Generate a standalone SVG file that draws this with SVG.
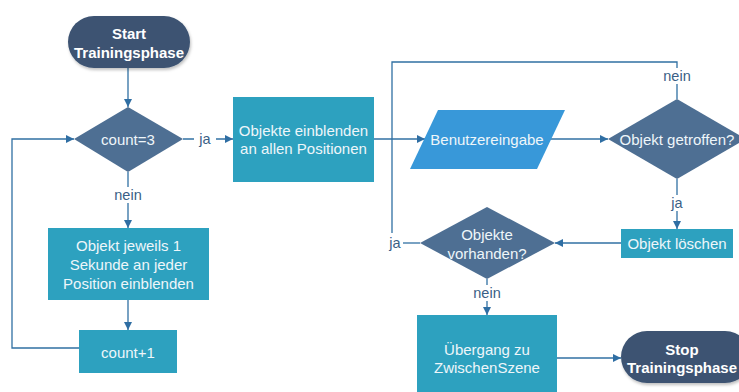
<svg xmlns="http://www.w3.org/2000/svg" width="739" height="392" viewBox="0 0 739 392">
  <style>
    .term { fill: #3c5372; }
    .dec { fill: #4e6f93; }
    .proc { fill: #2da1bf; }
    .io { fill: #3898d9; }
    .t { font-family: "Liberation Sans", Arial, sans-serif; font-size: 15px; fill: #eef6fa; text-anchor: middle; dominant-baseline: central; }
    .tb { font-family: "Liberation Sans", Arial, sans-serif; font-size: 15px; font-weight: bold; fill: #ffffff; text-anchor: middle; dominant-baseline: central; }
    .lbl { font-family: "Liberation Sans", Arial, sans-serif; font-size: 14.5px; fill: #3a5f86; text-anchor: middle; dominant-baseline: central; }
    .edge { fill: none; stroke: #3070a3; stroke-width: 1.3; }
  </style>
  <defs>
    <marker id="arrow" viewBox="0 0 10 10" refX="10" refY="5" markerWidth="8" markerHeight="8" markerUnits="userSpaceOnUse" orient="auto">
      <path d="M0,0 L10,5 L0,10 z" fill="#2f6ea3"/>
    </marker>
    <filter id="shadow" x="-10%" y="-10%" width="130%" height="140%">
      <feDropShadow dx="1" dy="2" stdDeviation="1.5" flood-color="#000" flood-opacity="0.25"/>
    </filter>
  </defs>

  <rect width="739" height="392" fill="#ffffff"/>

  <!-- connectors -->
  <g id="connectors">
    <path class="edge" d="M128,68 V107" marker-end="url(#arrow)"/>
    <path class="edge" d="M183,139 H233" marker-end="url(#arrow)"/>
    <path class="edge" d="M128,172 V228" marker-end="url(#arrow)"/>
    <path class="edge" d="M128,300 V330" marker-end="url(#arrow)"/>
    <path class="edge" d="M79,348 H12 V139 H74" marker-end="url(#arrow)"/>
    <path class="edge" d="M374,139 H425" marker-end="url(#arrow)"/>
    <path class="edge" d="M545,139 H608" marker-end="url(#arrow)"/>
    <path class="edge" d="M677,99 V62 H392 V233"/>
    <path class="edge" d="M677,179 V229" marker-end="url(#arrow)"/>
    <path class="edge" d="M621,243 H555" marker-end="url(#arrow)"/>
    <path class="edge" d="M420,243 H403"/>
    <path class="edge" d="M487,279 V315" marker-end="url(#arrow)"/>
    <path class="edge" d="M557,358 H621" marker-end="url(#arrow)"/>
    <!-- branch labels -->
    <rect x="194" y="131" width="22" height="16" fill="#fff"/>
    <text class="lbl" x="205" y="139">ja</text>
    <rect x="112" y="187" width="32" height="16" fill="#fff"/>
    <text class="lbl" x="128" y="195">nein</text>
    <rect x="661" y="68" width="32" height="16" fill="#fff"/>
    <text class="lbl" x="677" y="76">nein</text>
    <rect x="667" y="195" width="20" height="16" fill="#fff"/>
    <text class="lbl" x="677" y="203">ja</text>
    <text class="lbl" x="395" y="243">ja</text>
    <rect x="471" y="285" width="32" height="16" fill="#fff"/>
    <text class="lbl" x="487" y="293">nein</text>
  </g>

  <!-- nodes -->
  <g id="start">
    <rect class="term" x="68" y="16" width="122" height="52" rx="26" ry="26" filter="url(#shadow)"/>
    <text class="tb" x="129" y="33">Start</text>
    <text class="tb" x="129" y="52">Trainingsphase</text>
  </g>

  <g id="count-check">
    <polygon class="dec" points="128,107 183,139 128,172 74,139"/>
    <text class="t" x="128" y="139">count=3</text>
  </g>

  <g id="show-each">
    <rect class="proc" x="48" y="228" width="161" height="72"/>
    <text class="t" x="128.5" y="245">Objekt jeweils 1</text>
    <text class="t" x="128.5" y="264">Sekunde an jeder</text>
    <text class="t" x="128.5" y="283">Position einblenden</text>
  </g>

  <g id="count-inc">
    <rect class="proc" x="79" y="330" width="98" height="43"/>
    <text class="t" x="128" y="352">count+1</text>
  </g>

  <g id="show-all">
    <rect class="proc" x="233" y="97" width="141" height="85"/>
    <text class="t" x="303.5" y="130">Objekte einblenden</text>
    <text class="t" x="303.5" y="148">an allen Positionen</text>
  </g>

  <g id="user-input">
    <polygon class="io" points="438,110 565,110 537,169 410,169"/>
    <text class="t" x="487" y="139">Benutzereingabe</text>
  </g>

  <g id="hit-check">
    <polygon class="dec" points="677,99 746,139 677,179 608,139"/>
    <text class="t" x="677" y="139">Objekt getroffen?</text>
  </g>

  <g id="delete-object">
    <rect class="proc" x="621" y="229" width="112" height="29"/>
    <text class="t" x="677" y="243.5">Objekt löschen</text>
  </g>

  <g id="remaining-check">
    <polygon class="dec" points="487,207 555,243 487,279 420,243"/>
    <text class="t" x="487" y="234">Objekte</text>
    <text class="t" x="487" y="253">vorhanden?</text>
  </g>

  <g id="transition">
    <rect class="proc" x="417" y="315" width="140" height="80"/>
    <text class="t" x="487" y="349">Übergang zu</text>
    <text class="t" x="487" y="367">ZwischenSzene</text>
  </g>

  <g id="stop">
    <rect class="term" x="621" y="331" width="130" height="52" rx="26" ry="26" filter="url(#shadow)"/>
    <text class="tb" x="682" y="349">Stop</text>
    <text class="tb" x="682" y="367">Trainingsphase</text>
  </g>
</svg>
